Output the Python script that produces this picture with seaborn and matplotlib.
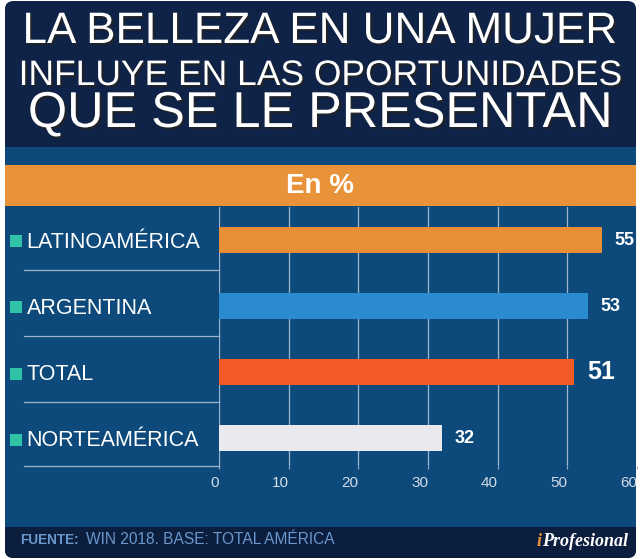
import matplotlib
matplotlib.use("Agg")
import matplotlib.pyplot as plt
import matplotlib.patheffects as pe
from matplotlib.patches import FancyBboxPatch, Rectangle
import seaborn as sns
import pandas as pd

# ---- data ----
categories = ["LATINOAMÉRICA", "ARGENTINA", "TOTAL", "NORTEAMÉRICA"]
values = [55, 53, 51, 32]
bar_colors = ["#e88f36", "#2a8bd0", "#f15a24", "#e9eaee"]
x_ticks = [0, 10, 20, 30, 40, 50, 60]
title_lines = ["LA BELLEZA EN UNA MUJER", "INFLUYE EN LAS OPORTUNIDADES", "QUE SE LE PRESENTAN"]
subtitle = "En %"
source_bold = "FUENTE:"
source_text = "WIN 2018. BASE: TOTAL AMÉRICA"

plt.rcParams['font.family'] = ['Liberation Sans', 'DejaVu Sans']

W, H = 640, 559
fig = plt.figure(figsize=(6.4, 5.59), dpi=100, facecolor="white")

def fx(px):
    return px / W

def fy(py):
    return 1 - py / H

NAVY = "#0f2348"
BLUE = "#0d4a7b"
FOOT = "#0c1e3e"
ORANGE = "#e8923a"
GRID = "#9fb5cf"

# background panel (rounded)
panel = FancyBboxPatch((fx(5), fy(558)), fx(636) - fx(5), fy(1) - fy(558),
                       boxstyle="round,pad=0,rounding_size=0.014",
                       transform=fig.transFigure, facecolor=NAVY, edgecolor="none", zorder=-3)
fig.add_artist(panel)
fig.add_artist(Rectangle((fx(5), fy(527)), fx(636) - fx(5), fy(147) - fy(527),
                         transform=fig.transFigure, facecolor=BLUE, edgecolor="none", zorder=-2))
fig.add_artist(Rectangle((fx(5), fy(206)), fx(636) - fx(5), fy(165) - fy(206),
                         transform=fig.transFigure, facecolor=ORANGE, edgecolor="none", zorder=-1))
footer = FancyBboxPatch((fx(5), fy(558)), fx(636) - fx(5), fy(527) - fy(558),
                        boxstyle="round,pad=0,rounding_size=0.014",
                        transform=fig.transFigure, facecolor=FOOT, edgecolor="none", zorder=-2.5)
fig.add_artist(footer)
fig.add_artist(Rectangle((fx(5), fy(540)), fx(636) - fx(5), fy(527) - fy(540),
                         transform=fig.transFigure, facecolor=FOOT, edgecolor="none", zorder=-2.4))

# title
shadow = [pe.SimplePatchShadow(offset=(1.5, -1.5), shadow_rgbFace="#222222", alpha=0.8), pe.Normal()]
title_specs = [(43, 31.7), (85, 25.5), (127, 36.3)]
for line, (base_y, size) in zip(title_lines, title_specs):
    fig.text(fx(320), fy(base_y), line, ha="center", va="baseline", color="white",
             fontsize=size, path_effects=shadow)

fig.text(fx(320), fy(186), subtitle, ha="center", va="center", color="white",
         fontsize=20, fontweight="bold")

# axes
ax = fig.add_axes([fx(219), fy(466), (637 - 219) / W, (466 - 207) / H])
ax.set_facecolor("none")
df = pd.DataFrame({"cat": categories, "val": values})
sns.barplot(data=df, x="val", y="cat", hue="cat", palette=bar_colors, legend=False,
            orient="h", width=0.394, ax=ax, saturation=1, zorder=3)
ax.set_xlim(0, 60)
ax.set_ylim(3.42, -0.5)
ax.set_xlabel("")
ax.set_ylabel("")
for s in ax.spines.values():
    s.set_visible(False)
ax.set_xticks(x_ticks)
ax.set_xticklabels([str(t) for t in x_ticks], ha="right")
ax.xaxis.grid(True, color=GRID, linewidth=0.9, zorder=0)
ax.set_axisbelow(True)
ax.tick_params(axis="x", length=2, color=GRID, labelcolor="#d3dbe6", labelsize=11, pad=5)
ax.tick_params(axis="y", length=0, pad=138.5, labelsize=15.5, labelcolor="white")
ax.set_yticks(range(len(categories)))
ax.set_yticklabels(categories, ha="left")

# separators in label area
for yv in [0.45, 1.45, 2.45, 3.42]:
    ax.plot([-0.467, 0], [yv, yv], transform=ax.get_yaxis_transform(), color=GRID,
            linewidth=0.9, clip_on=False)

# teal squares
ax.scatter([-0.4856] * len(categories), [i + 0.02 for i in range(len(categories))],
           transform=ax.get_yaxis_transform(), marker="s", s=70, color="#2fc2a6",
           clip_on=False, zorder=4, linewidths=0)

# value labels
for cont in ax.containers:
    ax.bar_label(cont, padding=9, color="white", fontsize=13, fontweight="bold")
for t in ax.texts:
    if t.get_text() == "51":
        t.set_fontsize(18)

# footer texts
fig.text(fx(20), fy(540), source_bold, ha="left", va="center", color="#6a97cc",
         fontsize=9.8, fontweight="bold")
fig.text(fx(86), fy(540), source_text, ha="left", va="center", color="#6a97cc", fontsize=11.2)
fig.text(fx(537), fy(541), "i", ha="left", va="center", color="#e8923a", fontsize=13,
         family="Liberation Serif", fontweight="bold", fontstyle="italic")
fig.text(fx(542), fy(541), "Profesional", ha="left", va="center", color="white", fontsize=13,
         family="Liberation Serif", fontweight="bold", fontstyle="italic")

fig.savefig("out.png", dpi=100, facecolor="white")
